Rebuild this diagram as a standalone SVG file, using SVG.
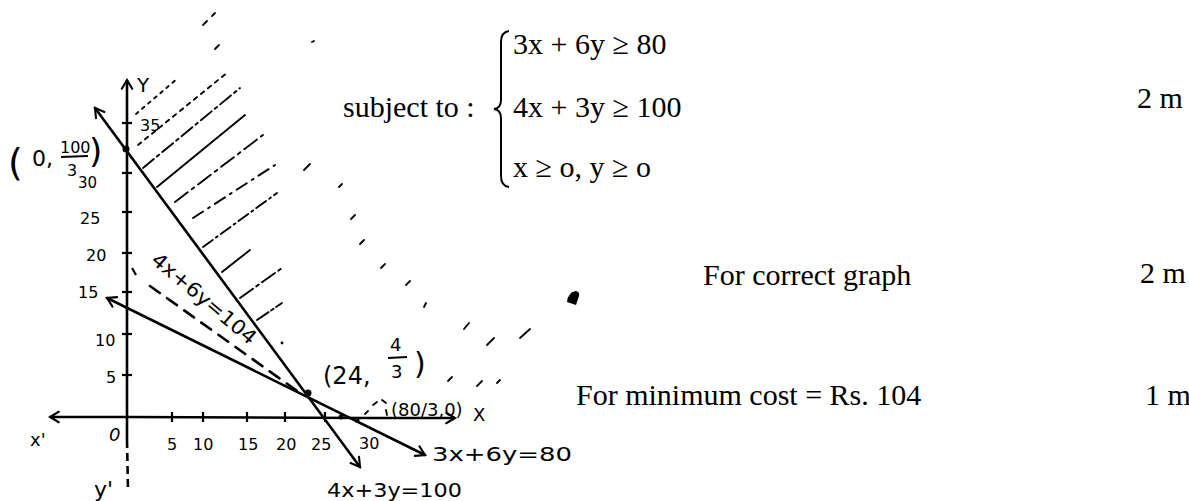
<svg xmlns="http://www.w3.org/2000/svg" width="1189" height="501" viewBox="0 0 1189 501">
<style>
.bg{fill:#fff}
.ln{stroke:#000;stroke-width:2.6;fill:none;stroke-linecap:round}
.ax{stroke:#000;stroke-width:2.6;fill:none}
.tk{stroke:#000;stroke-width:2.2}
.h{stroke:#000;stroke-width:1.9;fill:none;stroke-linecap:round}
.hw{font-family:"DejaVu Sans","Liberation Sans",sans-serif;fill:#000}
.tx{font-family:"Liberation Serif",serif;font-size:30px;fill:#000;white-space:pre}
.d{stroke:#000;stroke-width:1.8;stroke-linecap:round}
</style>
<defs>
<marker id="ar" markerWidth="14" markerHeight="14" refX="0" refY="0" viewBox="-12 -8 14 16" orient="auto-start-reverse" markerUnits="userSpaceOnUse">
<path d="M-10,-6 L0,0 L-10,6" fill="none" stroke="#000" stroke-width="2.4" stroke-linecap="round"/>
</marker>
</defs>
<rect class="bg" x="0" y="0" width="1189" height="501"/>

<g id="axes">
<line class="ax" x1="127" y1="440" x2="127" y2="80" marker-end="url(#ar)"/>
<line class="ax" x1="127" y1="440" x2="128" y2="490" stroke-dasharray="8 5" stroke-width="2"/>
<line class="ax" x1="127" y1="417" x2="50" y2="417" marker-end="url(#ar)"/>
<line class="ax" x1="127" y1="417" x2="365" y2="418"/>
<line class="ax" x1="365" y1="418" x2="455" y2="418" stroke-width="1.6" marker-end="url(#ar)"/>
<g class="tk">
<line x1="122" y1="375" x2="132" y2="375"/>
<line x1="122" y1="334" x2="132" y2="334"/>
<line x1="122" y1="292" x2="132" y2="292"/>
<line x1="132" y1="268" x2="136" y2="275"/>
<line x1="122" y1="253" x2="132" y2="253"/>
<line x1="122" y1="212" x2="132" y2="212"/>
<line x1="122" y1="173" x2="132" y2="173"/>
<line x1="122" y1="123" x2="132" y2="123"/>
<line x1="172" y1="412" x2="172" y2="422"/>
<line x1="203" y1="412" x2="203" y2="422"/>
<line x1="247" y1="412" x2="247" y2="422"/>
<line x1="285" y1="412" x2="285" y2="422"/>
<line x1="325" y1="412" x2="325" y2="422"/>
</g>
</g>

<g id="hatching">
<line class="h" x1="136" y1="114" x2="178" y2="78" stroke-dasharray="3 5"/>
<line class="h" x1="138" y1="145" x2="228" y2="72" stroke-dasharray="4 5"/>
<line class="h" x1="143" y1="168" x2="240" y2="88" stroke-dasharray="14 4 3 4"/>
<line class="h" x1="157" y1="187" x2="245" y2="115"/>
<line class="h" x1="175" y1="202" x2="263" y2="135" stroke-dasharray="16 5 3 5"/>
<line class="h" x1="193" y1="218" x2="275" y2="165" stroke-dasharray="12 6 2 6"/>
<line class="h" x1="203" y1="247" x2="277" y2="193" stroke-dasharray="12 4 2 4"/>
<line class="h" x1="222" y1="272" x2="250" y2="250"/>
<line class="h" x1="240" y1="298" x2="282" y2="268" stroke-dasharray="16 4 3 4"/>
<line class="h" x1="257" y1="320" x2="282" y2="303" stroke-dasharray="14 3 3 3"/>
<circle cx="282" cy="343" r="1.4"/>
<g class="d">
<line x1="203" y1="25" x2="207" y2="21"/>
<line x1="212" y1="16" x2="215" y2="13"/>
<line x1="215" y1="49" x2="219" y2="45"/>
<line x1="312" y1="42" x2="314" y2="41"/>
<line x1="304" y1="170" x2="310" y2="164"/>
<line x1="339" y1="187" x2="342" y2="184"/>
<line x1="351" y1="219" x2="355" y2="215"/>
<line x1="360" y1="244" x2="364" y2="240"/>
<line x1="381" y1="268" x2="385" y2="264"/>
<line x1="406" y1="285" x2="410" y2="281"/>
<line x1="424" y1="307" x2="426" y2="303"/>
<line x1="464" y1="329" x2="469" y2="323"/>
<line x1="487" y1="345" x2="494" y2="338"/>
<line x1="520" y1="338" x2="530" y2="329"/>
<line x1="448" y1="381" x2="452" y2="377"/>
<line x1="477" y1="386" x2="482" y2="381"/>
<line x1="497" y1="383" x2="500" y2="380"/>
<line x1="365" y1="414" x2="368" y2="411"/>
<line x1="373" y1="405" x2="377" y2="402"/>
<line x1="382" y1="400" x2="386" y2="403"/>
<line x1="386" y1="410" x2="387" y2="415"/>
</g>
</g>

<g id="connectors">
<line class="ln" x1="360" y1="467" x2="95" y2="108" marker-start="url(#ar)" marker-end="url(#ar)"/>
<line class="ln" x1="107" y1="298" x2="425" y2="455" marker-start="url(#ar)" marker-end="url(#ar)"/>
<line class="ln" x1="150" y1="286" x2="300" y2="393" stroke-dasharray="12 9" stroke-width="2.2"/>
<circle cx="308" cy="393" r="3.5"/>
<circle cx="126" cy="149" r="3.5"/>
<circle cx="341" cy="417" r="2.5"/>
<circle cx="357" cy="420" r="2.5"/>
</g>

<g id="graph-labels" class="hw">
<text x="137" y="92" font-size="20">Y</text>
<text x="473" y="421" font-size="18">X</text>
<text x="30" y="446" font-size="18">x'</text>
<text x="94" y="497" font-size="22">y'</text>
<text x="109" y="441" font-size="18" font-style="italic">0</text>
<text x="140" y="131" font-size="16">35</text>
<text x="80" y="224" font-size="16">25</text>
<text x="86" y="261" font-size="16">20</text>
<text x="78" y="298" font-size="16">15</text>
<text x="95" y="346" font-size="16">10</text>
<text x="106" y="383" font-size="16">5</text>
<text x="167" y="450" font-size="16">5</text>
<text x="193" y="450" font-size="16">10</text>
<text x="238" y="450" font-size="16">15</text>
<text x="276" y="450" font-size="16">20</text>
<text x="311" y="450" font-size="16">25</text>
<text x="359" y="449" font-size="16">30</text>
<text x="8" y="175" font-size="38">(</text>
<text x="32" y="166" font-size="22">0,</text>
<text x="60" y="153" font-size="16">100</text>
<line x1="61" y1="157" x2="88" y2="156" stroke="#000" stroke-width="2"/>
<text x="67" y="176" font-size="16">3</text>
<text x="78" y="188" font-size="15">30</text>
<text x="89" y="163" font-size="34">)</text>
<text x="323" y="384" font-size="24">(24,</text>
<text x="390" y="351" font-size="18">4</text>
<line x1="388" y1="358" x2="407" y2="357" stroke="#000" stroke-width="2"/>
<text x="391" y="378" font-size="18">3</text>
<text x="414" y="374" font-size="30">)</text>
<text x="391" y="416" font-size="18">(80/3,0)</text>
<text x="432" y="461" font-size="19" textLength="140" lengthAdjust="spacingAndGlyphs">3x+6y=80</text>
<text x="327" y="497" font-size="20" textLength="135" lengthAdjust="spacingAndGlyphs">4x+3y=100</text>
<text x="0" y="0" font-size="20" textLength="130" lengthAdjust="spacingAndGlyphs" transform="translate(150,262) rotate(40)">4x+6y=104</text>
</g>

<g id="constraints" class="tx">
<text x="343" y="117">subject to :</text>
<path d="M509,31 Q501,32 501,42 L501,100 Q501,108 494,109 Q501,110 501,118 L501,176 Q501,186 509,187" fill="none" stroke="#000" stroke-width="2"/>
<text x="513" y="54">3x + 6y ≥ 80</text>
<text x="513" y="117">4x + 3y ≥ 100</text>
<text x="513" y="177">x ≥ o,  y ≥ o</text>
</g>

<g id="marks" class="tx">
<text x="1137" y="108">2 m</text>
<text x="703" y="285">For correct graph</text>
<text x="1140" y="283">2 m</text>
<text x="576" y="405">For minimum cost = Rs. 104</text>
<text x="1145" y="405">1 m</text>
</g>
<path d="M567,302 Q568,292 576,291 Q580,292 579,296 L576,305 Z" fill="#000"/>
</svg>
